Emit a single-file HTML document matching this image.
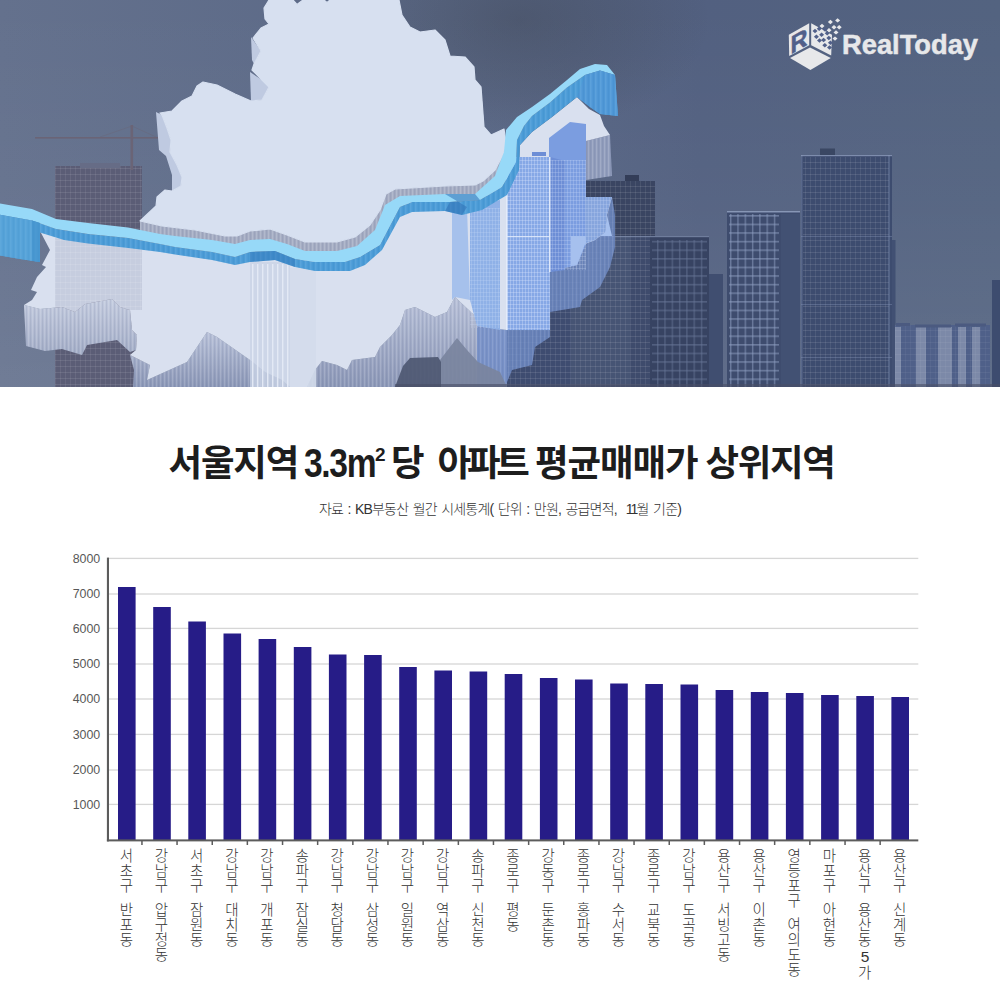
<!DOCTYPE html>
<html lang="ko">
<head>
<meta charset="utf-8">
<title>서울지역 3.3m² 당 아파트 평균매매가 상위지역</title>
<style>
*{margin:0;padding:0;box-sizing:border-box}
html,body{width:1000px;height:1000px;background:#fff;overflow:hidden}
body{position:relative;font-family:"Liberation Sans","Noto Sans CJK KR",sans-serif;color:#222}
#hero{position:absolute;left:0;top:0;width:1000px;height:387px;display:block}
h1{position:absolute;left:0;top:439.5px;height:48px;width:1000px;text-align:center;font-size:36.5px;line-height:48px;font-weight:700;letter-spacing:-2.3px;color:#1d1d1d;white-space:nowrap}
h1 span{position:absolute;top:0;display:block}
h1 .n{font-size:40px;top:-1px;transform:scaleX(.84);transform-origin:0 50%}
h1 .s{font-size:19px;top:-9px}
.sub{position:absolute;left:0;top:499px;width:1000px;text-align:center;font-size:14px;line-height:20px;font-weight:300;letter-spacing:-0.8px;word-spacing:1.3px;color:#333;white-space:nowrap}
#chart{position:absolute;left:0;top:0;width:1000px;height:1000px}
.yl{position:absolute;left:50px;width:50px;text-align:right;font-size:12.4px;line-height:14px;height:14px;color:#585858;letter-spacing:-0.1px}
.xl{position:absolute;top:848px;width:20px;writing-mode:vertical-rl;text-orientation:upright;font-family:"Liberation Sans","Noto Sans CJK KR",sans-serif;font-size:14.5px;line-height:20px;font-weight:300;color:#333;white-space:nowrap;letter-spacing:0.5px;word-spacing:-7px}
</style>
</head>
<body>
<svg id="hero" viewBox="0 0 1000 387" preserveAspectRatio="none">
<defs>
<linearGradient id="sky" x1="0" y1="0" x2="1" y2="0"><stop offset="0" stop-color="#64718d"/><stop offset=".45" stop-color="#5a6886"/><stop offset=".7" stop-color="#526080"/><stop offset="1" stop-color="#536380"/></linearGradient>
<linearGradient id="skyv" x1="0" y1="0" x2="0" y2="1"><stop offset="0" stop-color="#fff" stop-opacity="0"/><stop offset=".5" stop-color="#fff" stop-opacity=".03"/><stop offset="1" stop-color="#fff" stop-opacity=".08"/></linearGradient>
<linearGradient id="wall" x1="0" y1="0" x2="0" y2="1"><stop offset="0" stop-color="#c3cbdf"/><stop offset="1" stop-color="#a2acc6"/></linearGradient>
<linearGradient id="wall2" x1="0" y1="0" x2="0" y2="1"><stop offset="0" stop-color="#b7c0d8"/><stop offset="1" stop-color="#8a96b6"/></linearGradient>
<radialGradient id="dk" cx="520" cy="20" r="190" gradientUnits="userSpaceOnUse" gradientTransform="translate(0,20) scale(1,.6) translate(0,-20)"><stop offset="0" stop-color="#3a3f4a" stop-opacity=".36"/><stop offset=".6" stop-color="#3a3f4a" stop-opacity=".16"/><stop offset="1" stop-color="#3a3f4a" stop-opacity="0"/></radialGradient>
<pattern id="win" width="5" height="6" patternUnits="userSpaceOnUse"><rect width="5" height="6" fill="none"/><rect x="0" y="0" width="5" height="1" fill="#fff" opacity=".10"/><rect x="0" y="0" width="1" height="6" fill="#fff" opacity=".08"/></pattern>
<pattern id="win2" width="7.3" height="8.6" patternUnits="userSpaceOnUse"><rect x="0" y="0" width="7.3" height="1.6" fill="#8fa0c2" opacity=".55"/><rect x="0" y="0" width="1.4" height="8.6" fill="#8fa0c2" opacity=".55"/></pattern>
<pattern id="stripe" width="4" height="10" patternUnits="userSpaceOnUse"><rect x="0" y="0" width="1.2" height="10" fill="#fff" opacity=".16"/><rect x="2.2" y="0" width=".8" height="10" fill="#4a5880" opacity=".12"/></pattern>
<pattern id="rstripe" width="5" height="10" patternUnits="userSpaceOnUse"><rect x="0" y="0" width="1.5" height="10" fill="#bfe6ff" opacity=".12"/><rect x="3" y="0" width="1" height="10" fill="#1f5fa5" opacity=".08"/></pattern>
<pattern id="bwin" width="3" height="4" patternUnits="userSpaceOnUse"><rect x="0" y="0" width="3" height="1" fill="#dfe9ff" opacity=".30"/><rect x="0" y="0" width=".8" height="4" fill="#e8f0ff" opacity=".35"/></pattern>
</defs>
<rect width="1000" height="387" fill="url(#sky)"/><rect width="1000" height="387" fill="url(#skyv)"/><rect width="1000" height="200" fill="url(#dk)"/>
<g>
<rect x="507" y="236" width="66" height="151" fill="#3e4c70"/><rect x="507" y="236" width="66" height="151" fill="url(#win)"/>
<rect x="585" y="181" width="70" height="206" fill="#3a4562"/><rect x="625" y="175" width="14" height="6" fill="#333d58"/>
<rect x="585" y="181" width="70" height="206" fill="url(#win)"/>
<rect x="571" y="236" width="59" height="151" fill="#465474"/><rect x="630" y="236" width="20" height="151" fill="#3e4b6c"/>
<rect x="650" y="236" width="59" height="151" fill="#374362"/><rect x="652" y="240" width="55" height="147" fill="url(#win2)" opacity=".55"/>
<rect x="571" y="236" width="79" height="151" fill="url(#win)"/>
<rect x="571" y="236" width="138" height="1.2" fill="#8795b5" opacity=".7"/>
<rect x="709" y="274" width="14" height="113" fill="#404e70"/>
<rect x="727" y="212" width="73" height="175" fill="#3e4c6e"/><rect x="729" y="214" width="50" height="173" fill="url(#win2)"/><rect x="781" y="214" width="19" height="173" fill="#425173"/>
<rect x="727" y="211" width="73" height="1.5" fill="#93a2c2" opacity=".8"/>
<rect x="801" y="155" width="91" height="232" fill="#3d4c6f"/><rect x="820" y="148.5" width="15" height="7" fill="#3a4763"/>
<rect x="803" y="157" width="86" height="230" fill="url(#win)"/><rect x="801" y="155" width="1.5" height="232" fill="#8494b6" opacity=".4"/><rect x="888" y="155" width="2" height="232" fill="#8494b6" opacity=".35"/><rect x="801" y="155" width="91" height="1.2" fill="#8e9dbd" opacity=".8"/>
<rect x="801" y="236" width="91" height="1" fill="#8494b6" opacity=".4"/><rect x="801" y="304" width="91" height="1" fill="#8494b6" opacity=".4"/><rect x="801" y="357" width="91" height="1" fill="#8494b6" opacity=".4"/>
<rect x="892" y="240" width="3.5" height="147" fill="#415073"/>
<rect x="895" y="325" width="95" height="62" fill="#4f6089"/>
<rect x="895" y="327" width="6" height="60" fill="#8d99b4" opacity=".72"/>
<rect x="916" y="327" width="10" height="60" fill="#8d99b4" opacity=".72"/>
<rect x="938" y="327" width="14" height="60" fill="#8d99b4" opacity=".72"/>
<rect x="958" y="327" width="8" height="60" fill="#8d99b4" opacity=".72"/>
<rect x="972" y="327" width="8" height="60" fill="#8d99b4" opacity=".72"/>
<rect x="895" y="325" width="95" height="62" fill="url(#win)" opacity=".5"/>
<rect x="896" y="323" width="14" height="3" fill="#4b5a80"/><rect x="915" y="324.5" width="36" height="3" fill="#4b5a80"/><rect x="955" y="323.5" width="31" height="3" fill="#4b5a80"/>
<rect x="992" y="280" width="8" height="107" fill="#3d4c6f"/>
</g>
<g fill="#5a617c">
<rect x="55" y="166" width="87" height="221" fill="#5b5d76"/>
<rect x="55" y="166" width="87" height="221" fill="url(#win)" opacity=".9"/>
<rect x="80" y="163" width="40" height="5" fill="#666c86"/>
<rect x="130.5" y="125" width="2.6" height="45" fill="#6a6476"/><rect x="35" y="137" width="123" height="1.6" fill="#6a6476"/><path d="M132 126 L100 137 M132 126 L156 137" stroke="#6a6476" stroke-width=".6" fill="none" opacity=".7"/>
</g>
<polygon points="140,221 162,226 195,230 225,236 237,236 250,231 270,229 287,235 305,242 337,242 355,237 370,225 380,210 386,194 395,189 445,186 475,185 483,181 495,170 503,155 506,142 514,150 510,175 495,195 450,200 400,205 392,222 380,245 360,257 337,262 305,262 287,252 270,247 250,250 225,250 195,244 162,240 140,232" fill="#a3abc2"/>
<polygon points="140,221 162,226 195,230 225,236 237,236 250,231 270,229 287,235 305,242 337,242 355,237 370,225 380,210 386,194 395,189 445,186 475,185 483,181 495,170 503,155 506,142 514,150 510,175 495,195 450,200 400,205 392,222 380,245 360,257 337,262 305,262 287,252 270,247 250,250 225,250 195,244 162,240 140,232" fill="url(#stripe)"/>
<polygon points="251,37 261,51 254,64 252,60" fill="#bfcae1"/>
<polygon points="250,72 262,80 269,87 262,100 251,101" fill="#bfcae1"/>
<polygon points="156,112 162,115 167,128 171,140 170,152 177,165 182,177 181,186 172,191 172,175 166,156 159,150" fill="#bfcae1"/>
<polygon points="475,80 481,87 484,127 491,135 486,137 480,128" fill="#bfcae1"/>
<polygon points="24,305 40,309 62,307 75,312 85,304 112,299 120,307 130,310 132,330 137,335 136,350 130,352 117,340 87,345 82,355 62,349 45,351 26,346" fill="url(#wall)"/><polygon points="24,305 40,309 62,307 75,312 85,304 112,299 120,307 130,310 132,330 137,335 136,350 130,352 117,340 87,345 82,355 62,349 45,351 26,346" fill="url(#stripe)"/>
<polygon points="130,355 150,365 147,380 187,362 195,350 207,332 217,337 250,360 265,372 282,380 290,387 133,387 134,370" fill="url(#wall2)"/><polygon points="130,355 150,365 147,380 187,362 195,350 207,332 217,337 250,360 265,372 282,380 290,387 133,387 134,370" fill="url(#stripe)"/>
<polygon points="307,387 315,370 322,361 337,365 347,370 352,360 375,357 380,347 392,335 400,325 405,310 415,307 435,317 447,312 455,297 474,315 477,326 507,330 507,387" fill="url(#wall2)"/><polygon points="307,387 315,370 322,361 337,365 347,370 352,360 375,357 380,347 392,335 400,325 405,310 415,307 435,317 447,312 455,297 474,315 477,326 507,330 507,387" fill="url(#stripe)"/>
<polygon points="586,141 610,135 612,176 586,180" fill="#8f9bbb"/><polygon points="586,141 610,135 612,176 586,180" fill="url(#stripe)"/>
<polygon points="612,197 615,215 615,247 610,267 600,287 582,300 580,307 550,312 550,337 535,347 532,365 512,370 505,387 477,387 477,326 507,330 532,320 527,307 545,295 547,272 577,265 585,244 595,240 605,232 607,215" fill="#6f8cc8" opacity=".8"/><polygon points="612,197 615,215 615,247 610,267 600,287 582,300 580,307 550,312 550,337 535,347 532,365 512,370 505,387 477,387 477,326 507,330 532,320 527,307 545,295 547,272 577,265 585,244 595,240 605,232 607,215" fill="url(#stripe)" opacity=".6"/>
<polygon points="269,0 293,0 297,4.5 303,0 324,0 327,2.5 330,0 399,0 402,15 410,27 420,32 435,30 445,40 450,56 465,57 474,67 475,80 481,87 484,127 491,135 504,129 506,142 503,155 495,170 483,181 475,185 445,186 395,189 386,194 380,210 370,225 355,237 337,242 305,242 287,235 270,229 250,231 237,236 225,236 195,230 162,226 140,221 156,206 157,197 165,190 172,191 181,186 182,177 177,165 170,152 171,140 167,128 162,115 160,113 172,111 182,101 192,96 197,86 203,82 217,85 235,94 251,101 262,100 269,87 262,80 252,70 254,64 261,51 253,38 261,28 269,24 265,19 264,8" fill="#d7e0f0" stroke="#d7e0f0" stroke-width="1.2" stroke-linejoin="round"/>
<polygon points="40,231 64,237 88,241 128,245 160,249 175,252 212,258 235,263 250,259 275,257 295,264 315,268 350,268 365,262 382,247 400,214 412,209 445,208 462,212 482,207 507,192 519,168 520,145 532,132 552,117 577,97 589,109 600,115 604,126 610,135 586,141 585,197 612,197 607,215 605,232 595,240 585,244 577,265 547,272 545,295 527,307 532,320 507,330 477,326 474,315 455,297 447,312 435,317 415,307 405,310 400,325 392,335 380,347 375,357 352,360 347,370 337,365 322,361 315,370 307,387 290,387 282,380 265,372 250,360 217,337 207,332 195,350 187,362 147,380 150,365 130,355 136,350 137,335 132,330 130,310 120,307 112,299 85,304 75,312 62,307 40,309 24,305 32,300 37,292 31,290 37,277 46,267 42,265 50,250" fill="#d9e0ef"/>
<polygon points="55,238 142,250 142,310 130,310 120,307 112,299 85,304 75,312 62,307 55,308" fill="#a9adc4" opacity=".38"/><polygon points="55,238 142,250 142,310 130,310 120,307 112,299 85,304 75,312 62,307 55,308" fill="url(#win)"/>
<rect x="250" y="262" width="40" height="125" fill="#c9d3e6" opacity=".8"/><rect x="290" y="268" width="26" height="119" fill="#d3dbeb" opacity=".9"/>
<rect x="252" y="264" width="1.4" height="123" fill="#e6ebf6" opacity=".9"/>
<rect x="257" y="264" width="1.4" height="123" fill="#e6ebf6" opacity=".9"/>
<rect x="262" y="264" width="1.4" height="123" fill="#e6ebf6" opacity=".9"/>
<rect x="267" y="264" width="1.4" height="123" fill="#e6ebf6" opacity=".9"/>
<rect x="272" y="264" width="1.4" height="123" fill="#e6ebf6" opacity=".9"/>
<rect x="277" y="264" width="1.4" height="123" fill="#e6ebf6" opacity=".9"/>
<rect x="282" y="264" width="1.4" height="123" fill="#e6ebf6" opacity=".9"/>
<rect x="287" y="264" width="1.4" height="123" fill="#e6ebf6" opacity=".9"/>
<polygon points="452,205 467,207 470,300 455,297 452,300" fill="#a6c1ec"/><polygon points="470,208 500,200 500,330 477,326 474,315 470,300" fill="#8fb1e7"/>
<rect x="470" y="208" width="30" height="120" fill="url(#bwin)" opacity=".6"/>
<polygon points="549,138 570,122 586,124 586,244 577,265 549,272" fill="#7b9de0"/>
<rect x="507" y="157" width="43" height="173" fill="#86a8e6"/><polygon points="550,157 565,161 565,270 550,272" fill="#6d8ed6"/>
<rect x="507" y="157" width="43" height="173" fill="url(#bwin)"/><rect x="550" y="160" width="36" height="110" fill="url(#bwin)" opacity=".7"/>
<rect x="506" y="157" width="1.5" height="173" fill="#e4ecfb" opacity=".9"/><rect x="549" y="157" width="1.5" height="115" fill="#e4ecfb" opacity=".9"/><rect x="507" y="236" width="43" height="1.2" fill="#e4ecfb" opacity=".8"/>
<rect x="532" y="152" width="14" height="4" fill="#6d8ed6"/>
<polygon points="571,236 612,236 607,215 605,232 595,240 585,244 577,265 571,266" fill="#a6c0ee"/>
<polygon points="585,197 612,197 607,215 605,232 595,240 586,243" fill="#86a5dd"/><polygon points="585,197 612,197 607,215 605,232 595,240 586,243" fill="url(#bwin)" opacity=".6"/>
<polygon points="440,387 440,360 457,338 467,350 478,362 500,372 507,387" fill="#7a849e" opacity=".92"/><polygon points="395,387 403,366 410,358 438,357 441,362 441,387" fill="#4e5872" opacity=".92"/>
<polygon points="0,214.8 32,220.5 56,229 88,234 128,238 160,244 175,247 212,252 235,257 250,252 275,251 295,259 315,262 345,262 360,257 380,245 392,222 400,207 412,202 450,202 480,200 502,187 516,162 517,140 524,126 532,116 550,102.5 567,87.5 585,75 600,70.5 615,75 615,75 618,116 600,114 590,107 577,97 552,117 532,132 520,145 519,170 507,195 482,210 462,215 445,211 412,212 400,217 382,250 365,265 350,271 315,271 295,267 275,260 250,262 235,265 212,260 175,254.5 160,252 128,248 88,243.6 64,240 40,232.5 40,262 20,259 0,255.6" fill="#4b9bd6"/>
<polygon points="0,214.8 32,220.5 56,229 88,234 128,238 160,244 175,247 212,252 235,257 250,252 275,251 295,259 315,262 345,262 360,257 380,245 392,222 400,207 412,202 450,202 480,200 502,187 516,162 517,140 524,126 532,116 550,102.5 567,87.5 585,75 600,70.5 615,75 615,75 618,116 600,114 590,107 577,97 552,117 532,132 520,145 519,170 507,195 482,210 462,215 445,211 412,212 400,217 382,250 365,265 350,271 315,271 295,267 275,260 250,262 235,265 212,260 175,254.5 160,252 128,248 88,243.6 64,240 40,232.5 40,262 20,259 0,255.6" fill="url(#rstripe)"/>
<polygon points="0,203.6 32,209 56,219 88,223 128,227.6 160,234 175,236 212,240 235,244 250,240 270,239 287,244 305,251 337,251 357,246 375,230 385,205 400,196 445,194 475,194 495,176 504,152 506,130 517,117 532,107 550,94 567,80 580,69 595,64 607,65 615,75 615,75 600,70.5 585,75 567,87.5 550,102.5 532,116 524,126 517,140 516,162 502,187 480,200 450,202 412,202 400,207 392,222 380,245 360,257 345,262 315,262 295,259 275,251 250,252 235,257 212,252 175,247 160,244 128,238 88,234 56,229 32,220.5 0,214.8" fill="#97d9f8"/>
<polygon points="0,214.8 32,220.5 40,223 40,262 20,259 0,255.6" fill="#55a2d8"/><polygon points="0,214.8 32,220.5 40,223 40,262 20,259 0,255.6" fill="url(#rstripe)" opacity=".7"/><polygon points="32,220.5 40,223 40,262 32,261" fill="#3f8fcb" opacity=".6"/>
<polygon points="577,97 585,75 600,70.5 615,75 618,116 600,114 590,107" fill="#4f97d6"/><polygon points="577,97 585,75 600,70.5 615,75 618,116 600,114 590,107" fill="url(#rstripe)"/>
<polygon points="445,194 475,194 480,200 450,202 445,211 462,215 467,207" fill="#2f6fb5" opacity=".55"/>
<polygon points="250,252 275,251 295,259 295,267 275,260 250,262" fill="#2f74b8" opacity=".45"/>
<g fill="#e7e8ea">
<polygon points="788.8,34.8 809.2,23.2 809.2,45.2 789.2,56"/>
<polygon points="811.2,23.2 832,34.8 831.2,55.6 811.2,45.2"/>
<polygon points="790,58 810,47.6 830.8,58 810.4,70"/>
<polygon points="819.5,26 822,23.8 824.5,26 822,28.2"/>
<polygon points="827.9,22 830.4,19.8 832.9,22 830.4,24.2"/>
<polygon points="835.1,20.4 837.6,18.2 840.1,20.4 837.6,22.599999999999998"/>
<polygon points="831.5,27.2 834,25.0 836.5,27.2 834,29.4"/>
<polygon points="836.7,27.2 839.2,25.0 841.7,27.2 839.2,29.4"/>
<polygon points="833.5,32.4 836,30.2 838.5,32.4 836,34.6"/>
<polygon points="832.5,38.6 835,36.4 837.5,38.6 835,40.800000000000004"/>
<polygon points="826.5,30.2 829,28.0 831.5,30.2 829,32.4"/>
</g>
<g fill="#51608a">
<polygon points="812.5,31 815,28.8 817.5,31 815,33.2"/>
<polygon points="813.9,36.8 816.4,34.599999999999994 818.9,36.8 816.4,39.0"/>
<polygon points="816.7,28.8 819.2,26.6 821.7,28.8 819.2,31.0"/>
<polygon points="819.1,34.8 821.6,32.599999999999994 824.1,34.8 821.6,37.0"/>
<polygon points="821.1,40 823.6,37.8 826.1,40 823.6,42.2"/>
<polygon points="822.3,45.2 824.8,43.0 827.3,45.2 824.8,47.400000000000006"/>
<polygon points="824.7,33.2 827.2,31.000000000000004 829.7,33.2 827.2,35.400000000000006"/>
<polygon points="826.3,38 828.8,35.8 831.3,38 828.8,40.2"/>
<polygon points="827.9,42.8 830.4,40.599999999999994 832.9,42.8 830.4,45.0"/>
<polygon points="822.5,29.5 825,27.3 827.5,29.5 825,31.7"/>
<polygon points="817.0,40.5 819.5,38.3 822.0,40.5 819.5,42.7"/>
<polygon points="827.0,47.5 829.5,45.3 832.0,47.5 829.5,49.7"/>
</g>
<text transform="matrix(1,-0.57,0,1,790.6,54.4)" x="0" y="0" font-family="Liberation Sans, sans-serif" font-weight="700" font-size="25" fill="#51608a" stroke="#51608a" stroke-width=".5" textLength="17" lengthAdjust="spacingAndGlyphs">R</text>
<text x="842" y="54" font-family="Liberation Sans, sans-serif" font-weight="700" font-size="27" fill="#e7e8ea" stroke="#e7e8ea" stroke-width=".5" stroke-linejoin="round" textLength="136" lengthAdjust="spacingAndGlyphs">RealToday</text>
<rect x="395" y="384" width="605" height="3" fill="#4a4f66" opacity=".6"/>
</svg>
<h1><span style="left:168.5px;letter-spacing:-1.2px">서울지역</span> <span class="n" style="left:303.5px;letter-spacing:-1.6px">3.3m</span> <span class="s" style="left:375px;letter-spacing:0px">2</span> <span style="left:391px;letter-spacing:0px">당</span> <span style="left:437.5px;letter-spacing:-4.2px">아파트</span> <span style="left:535px;letter-spacing:-1.05px">평균매매가</span> <span style="left:705.5px;letter-spacing:-1.3px">상위지역</span> </h1>
<p class="sub">자료 : KB부동산 월간 시세통계( 단위 : 만원, 공급면적,&nbsp; <span style="letter-spacing:-1.8px">11</span>월 기준)</p>
<svg id="chart" viewBox="0 0 1000 1000" shape-rendering="crispEdges">
<rect x="108" y="557.75" width="810.3" height="1.3" fill="#d6d6d6" shape-rendering="auto"/>
<rect x="108" y="593.35" width="810.3" height="1.3" fill="#d6d6d6" shape-rendering="auto"/>
<rect x="108" y="627.75" width="810.3" height="1.3" fill="#d6d6d6" shape-rendering="auto"/>
<rect x="108" y="663.35" width="810.3" height="1.3" fill="#d6d6d6" shape-rendering="auto"/>
<rect x="108" y="698.35" width="810.3" height="1.3" fill="#d6d6d6" shape-rendering="auto"/>
<rect x="108" y="733.75" width="810.3" height="1.3" fill="#d6d6d6" shape-rendering="auto"/>
<rect x="108" y="769.35" width="810.3" height="1.3" fill="#d6d6d6" shape-rendering="auto"/>
<rect x="108" y="803.75" width="810.3" height="1.3" fill="#d6d6d6" shape-rendering="auto"/>
<rect x="118.0" y="587.0" width="17.6" height="253.8" fill="#261c87" shape-rendering="auto"/>
<rect x="153.2" y="607.0" width="17.6" height="233.8" fill="#261c87" shape-rendering="auto"/>
<rect x="188.3" y="621.5" width="17.6" height="219.3" fill="#261c87" shape-rendering="auto"/>
<rect x="223.5" y="633.5" width="17.6" height="207.3" fill="#261c87" shape-rendering="auto"/>
<rect x="258.6" y="639.0" width="17.6" height="201.8" fill="#261c87" shape-rendering="auto"/>
<rect x="293.8" y="647.0" width="17.6" height="193.8" fill="#261c87" shape-rendering="auto"/>
<rect x="328.9" y="654.5" width="17.6" height="186.3" fill="#261c87" shape-rendering="auto"/>
<rect x="364.1" y="655.0" width="17.6" height="185.8" fill="#261c87" shape-rendering="auto"/>
<rect x="399.2" y="667.0" width="17.6" height="173.8" fill="#261c87" shape-rendering="auto"/>
<rect x="434.4" y="670.5" width="17.6" height="170.3" fill="#261c87" shape-rendering="auto"/>
<rect x="469.6" y="671.5" width="17.6" height="169.3" fill="#261c87" shape-rendering="auto"/>
<rect x="504.7" y="674.0" width="17.6" height="166.8" fill="#261c87" shape-rendering="auto"/>
<rect x="539.9" y="678.0" width="17.6" height="162.8" fill="#261c87" shape-rendering="auto"/>
<rect x="575.0" y="679.5" width="17.6" height="161.3" fill="#261c87" shape-rendering="auto"/>
<rect x="610.2" y="683.5" width="17.6" height="157.3" fill="#261c87" shape-rendering="auto"/>
<rect x="645.3" y="684.0" width="17.6" height="156.8" fill="#261c87" shape-rendering="auto"/>
<rect x="680.5" y="684.5" width="17.6" height="156.3" fill="#261c87" shape-rendering="auto"/>
<rect x="715.6" y="690.0" width="17.6" height="150.8" fill="#261c87" shape-rendering="auto"/>
<rect x="750.8" y="692.0" width="17.6" height="148.8" fill="#261c87" shape-rendering="auto"/>
<rect x="785.9" y="693.0" width="17.6" height="147.8" fill="#261c87" shape-rendering="auto"/>
<rect x="821.1" y="695.0" width="17.6" height="145.8" fill="#261c87" shape-rendering="auto"/>
<rect x="856.3" y="696.0" width="17.6" height="144.8" fill="#261c87" shape-rendering="auto"/>
<rect x="891.4" y="697.0" width="17.6" height="143.8" fill="#261c87" shape-rendering="auto"/>
<rect x="106.9" y="557.6" width="2.1" height="283.8" fill="#5c5c5c" shape-rendering="auto"/>
<rect x="106.9" y="839.4" width="811.4" height="2" fill="#5c5c5c" shape-rendering="auto"/>
<rect x="141.2" y="840.8" width="1.5" height="4.2" fill="#5c5c5c" shape-rendering="auto"/>
<rect x="176.3" y="840.8" width="1.5" height="4.2" fill="#5c5c5c" shape-rendering="auto"/>
<rect x="211.5" y="840.8" width="1.5" height="4.2" fill="#5c5c5c" shape-rendering="auto"/>
<rect x="246.6" y="840.8" width="1.5" height="4.2" fill="#5c5c5c" shape-rendering="auto"/>
<rect x="281.8" y="840.8" width="1.5" height="4.2" fill="#5c5c5c" shape-rendering="auto"/>
<rect x="316.9" y="840.8" width="1.5" height="4.2" fill="#5c5c5c" shape-rendering="auto"/>
<rect x="352.1" y="840.8" width="1.5" height="4.2" fill="#5c5c5c" shape-rendering="auto"/>
<rect x="387.2" y="840.8" width="1.5" height="4.2" fill="#5c5c5c" shape-rendering="auto"/>
<rect x="422.4" y="840.8" width="1.5" height="4.2" fill="#5c5c5c" shape-rendering="auto"/>
<rect x="457.6" y="840.8" width="1.5" height="4.2" fill="#5c5c5c" shape-rendering="auto"/>
<rect x="492.7" y="840.8" width="1.5" height="4.2" fill="#5c5c5c" shape-rendering="auto"/>
<rect x="527.9" y="840.8" width="1.5" height="4.2" fill="#5c5c5c" shape-rendering="auto"/>
<rect x="563.0" y="840.8" width="1.5" height="4.2" fill="#5c5c5c" shape-rendering="auto"/>
<rect x="598.2" y="840.8" width="1.5" height="4.2" fill="#5c5c5c" shape-rendering="auto"/>
<rect x="633.3" y="840.8" width="1.5" height="4.2" fill="#5c5c5c" shape-rendering="auto"/>
<rect x="668.5" y="840.8" width="1.5" height="4.2" fill="#5c5c5c" shape-rendering="auto"/>
<rect x="703.6" y="840.8" width="1.5" height="4.2" fill="#5c5c5c" shape-rendering="auto"/>
<rect x="738.8" y="840.8" width="1.5" height="4.2" fill="#5c5c5c" shape-rendering="auto"/>
<rect x="773.9" y="840.8" width="1.5" height="4.2" fill="#5c5c5c" shape-rendering="auto"/>
<rect x="809.1" y="840.8" width="1.5" height="4.2" fill="#5c5c5c" shape-rendering="auto"/>
<rect x="844.3" y="840.8" width="1.5" height="4.2" fill="#5c5c5c" shape-rendering="auto"/>
<rect x="879.4" y="840.8" width="1.5" height="4.2" fill="#5c5c5c" shape-rendering="auto"/>
</svg>
<div class="yl" style="top:551.8px">8000</div>
<div class="yl" style="top:587.4px">7000</div>
<div class="yl" style="top:621.8px">6000</div>
<div class="yl" style="top:657.4px">5000</div>
<div class="yl" style="top:692.4px">4000</div>
<div class="yl" style="top:727.8px">3000</div>
<div class="yl" style="top:763.4px">2000</div>
<div class="yl" style="top:797.8px">1000</div>
<div class="xl" style="left:114.8px">서초구 반포동</div>
<div class="xl" style="left:150.0px">강남구 압구정동</div>
<div class="xl" style="left:185.1px">서초구 잠원동</div>
<div class="xl" style="left:220.3px">강남구 대치동</div>
<div class="xl" style="left:255.4px">강남구 개포동</div>
<div class="xl" style="left:290.6px">송파구 잠실동</div>
<div class="xl" style="left:325.7px">강남구 청담동</div>
<div class="xl" style="left:360.9px">강남구 삼성동</div>
<div class="xl" style="left:396.0px">강남구 일원동</div>
<div class="xl" style="left:431.2px">강남구 역삼동</div>
<div class="xl" style="left:466.4px">송파구 신천동</div>
<div class="xl" style="left:501.5px">종로구 평동</div>
<div class="xl" style="left:536.7px">강동구 둔촌동</div>
<div class="xl" style="left:571.8px">종로구 홍파동</div>
<div class="xl" style="left:607.0px">강남구 수서동</div>
<div class="xl" style="left:642.1px">종로구 교북동</div>
<div class="xl" style="left:677.3px">강남구 도곡동</div>
<div class="xl" style="left:712.4px">용산구 서빙고동</div>
<div class="xl" style="left:747.6px">용산구 이촌동</div>
<div class="xl" style="left:782.7px">영등포구 여의도동</div>
<div class="xl" style="left:817.9px">마포구 아현동</div>
<div class="xl" style="left:853.1px">용산구 용산동<span style="position:relative;left:1.5px;font-size:15.5px">5</span>가</div>
<div class="xl" style="left:888.2px">용산구 신계동</div>
</body>
</html>
